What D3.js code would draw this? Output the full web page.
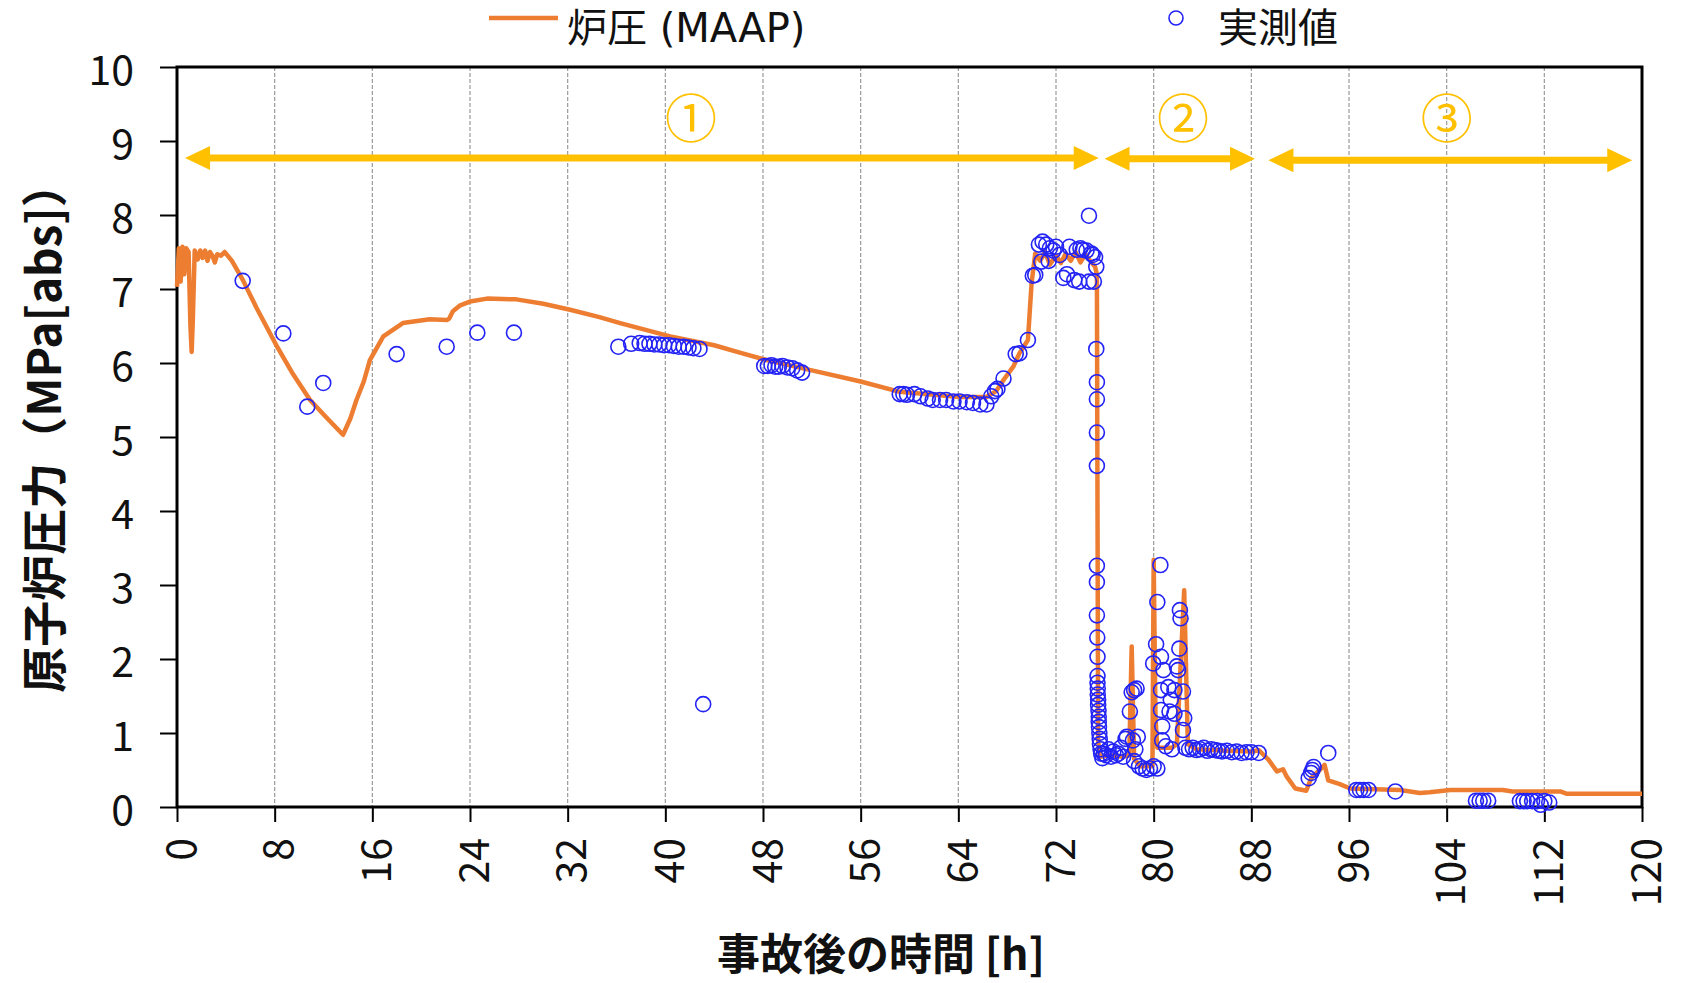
<!DOCTYPE html>
<html>
<head>
<meta charset="utf-8">
<script src="https://cdn.jsdelivr.net/npm/d3@7"></script>
<style>
	body { margin: 0; background: #fff; }
	text { font-family: "Noto Sans CJK JP", "Noto Sans", sans-serif; }
</style>
</head>
<body>
<script>
// time ticks [h] and pressure ticks [MPa abs]
const hourTicks = [0, 8, 16, 24, 32, 40, 48, 56, 64, 72, 80, 88, 96, 104, 112, 120];
const pressureTicks = [0, 1, 2, 3, 4, 5, 6, 7, 8, 9, 10];

// MAAP calculation, [hour, pressure]
const maapSeries = [
	[0.0, 7.03], [0.15, 7.55], [0.3, 7.1], [0.45, 7.57], [0.6, 7.2], [0.75, 7.55],
	[0.95, 7.5], [1.1, 6.5], [1.2, 6.15], [1.3, 6.6], [1.45, 7.52], [1.7, 7.4],
	[1.9, 7.52], [2.1, 7.42], [2.3, 7.52], [2.5, 7.38], [2.7, 7.5], [2.9, 7.45],
	[3.1, 7.36], [3.3, 7.47], [3.6, 7.45], [3.9, 7.5], [4.5, 7.38], [5.4, 7.12],
	[6.5, 6.75], [8.2, 6.22], [9.5, 5.85], [10.9, 5.5], [12.2, 5.27], [13.6, 5.03],
	[14.2, 5.25], [14.7, 5.5], [15.3, 5.75], [15.8, 6.04], [16.9, 6.36], [18.5, 6.54],
	[20.7, 6.59], [22.1, 6.58], [22.3, 6.6], [22.6, 6.7], [23.2, 6.78], [24.0, 6.83],
	[25.4, 6.87], [27.8, 6.86], [30.0, 6.8], [32.2, 6.72], [34.6, 6.62], [36.3, 6.54],
	[40.4, 6.36], [44.0, 6.24], [46.1, 6.14], [48.3, 6.04], [52.0, 5.9], [56.0, 5.75],
	[59.2, 5.61], [62.0, 5.57], [64.1, 5.54], [66.3, 5.54], [67.1, 5.62], [67.7, 5.77],
	[68.5, 5.95], [69.0, 6.13], [69.7, 6.31], [70.0, 7.08], [70.3, 7.48], [70.7, 7.38],
	[71.1, 7.5], [71.5, 7.33], [72.0, 7.45], [72.4, 7.35], [72.8, 7.48], [73.2, 7.38],
	[73.6, 7.5], [74.0, 7.36], [74.4, 7.47], [74.8, 7.38], [75.2, 7.3], [75.35, 7.2],
	[75.45, 0.9], [75.6, 0.68], [76.5, 0.7], [77.5, 0.68], [78.0, 0.7], [78.2, 2.17],
	[78.4, 0.65], [78.9, 0.55], [79.9, 0.55], [80.0, 3.34], [80.15, 1.2], [80.3, 0.8],
	[81.5, 0.8], [81.9, 0.85], [82.5, 2.93], [82.8, 0.85], [83.5, 0.78], [86.0, 0.76],
	[88.1, 0.75], [88.6, 0.77], [89.4, 0.64], [90.1, 0.48], [90.6, 0.51], [90.9, 0.41],
	[91.6, 0.25], [92.5, 0.22], [92.9, 0.39], [93.6, 0.5], [94.0, 0.57], [94.3, 0.36],
	[95.25, 0.31], [96.1, 0.25], [100.2, 0.23], [101.8, 0.19], [102.6, 0.2], [104.3, 0.23],
	[108.6, 0.23], [109.4, 0.21], [113.3, 0.21], [113.8, 0.18], [120, 0.18]
];

// measured values, [hour, pressure]
const measuredSeries = [
	[5.38, 7.11], [8.71, 6.4], [10.67, 5.41], [11.98, 5.73], [17.99, 6.12], [22.09, 6.22],
	[24.6, 6.41], [27.6, 6.41], [36.15, 6.22], [37.2, 6.26], [37.9, 6.27], [38.3, 6.26],
	[38.7, 6.26], [39.1, 6.25], [39.5, 6.25], [39.9, 6.24], [40.3, 6.24], [40.7, 6.23],
	[41.1, 6.22], [41.5, 6.22], [41.9, 6.21], [42.3, 6.2], [42.8, 6.19], [43.1, 1.39],
	[48.1, 5.96], [48.4, 5.96], [48.7, 5.97], [49.0, 5.95], [49.3, 5.95], [49.6, 5.96],
	[50.0, 5.94], [50.4, 5.93], [50.8, 5.9], [51.2, 5.87],
	[59.2, 5.58], [59.5, 5.58], [59.8, 5.57], [60.4, 5.58], [60.9, 5.55], [61.5, 5.52],
	[61.9, 5.5], [62.5, 5.5], [63.0, 5.5], [63.6, 5.48], [64.1, 5.48], [64.7, 5.47],
	[65.2, 5.46], [65.8, 5.44], [66.3, 5.44], [66.7, 5.55], [67.0, 5.62], [67.2, 5.65],
	[67.7, 5.79], [68.7, 6.12], [69.0, 6.13], [69.7, 6.31],
	[70.1, 7.18], [70.3, 7.19], [70.6, 7.6], [70.8, 7.37], [70.9, 7.64], [71.2, 7.6],
	[71.4, 7.38], [71.5, 7.55], [71.8, 7.52], [72.0, 7.57], [72.3, 7.46], [72.6, 7.15],
	[72.9, 7.2], [73.1, 7.57], [73.5, 7.12], [73.7, 7.53], [73.9, 7.1], [74.0, 7.55],
	[74.2, 7.53], [74.5, 7.52], [74.7, 7.1], [74.7, 7.99], [74.9, 7.48], [75.0, 7.46],
	[75.1, 7.1], [75.2, 7.43], [75.3, 7.3],
	[75.3, 6.19], [75.35, 5.74], [75.35, 5.51], [75.35, 5.06], [75.35, 4.61], [75.35, 3.26],
	[75.35, 3.04], [75.35, 2.59], [75.38, 2.29], [75.4, 2.03], [75.4, 1.77], [75.4, 1.68],
	[75.42, 1.6], [75.42, 1.52], [75.45, 1.45], [75.45, 1.38], [75.48, 1.3], [75.5, 1.22],
	[75.5, 1.15], [75.52, 1.08], [75.55, 1.0], [75.58, 0.92], [75.6, 0.85], [75.65, 0.78],
	[75.7, 0.72], [75.8, 0.66], [75.9, 0.72], [76.1, 0.7], [76.3, 0.78], [76.5, 0.68],
	[76.7, 0.75], [76.9, 0.7], [77.1, 0.72], [77.3, 0.8], [77.5, 0.68], [77.7, 0.92],
	[77.8, 0.95], [78.05, 1.29], [78.2, 1.55], [78.4, 1.58], [78.6, 1.6], [78.3, 0.9],
	[78.7, 0.95], [78.5, 0.78], [78.4, 0.62], [78.8, 0.55], [79.1, 0.52], [79.4, 0.5],
	[79.7, 0.52], [80.0, 0.55], [80.3, 0.52],
	[80.55, 3.27], [80.3, 2.77], [80.2, 2.2], [79.96, 1.94], [80.6, 2.03], [80.8, 1.85],
	[80.6, 1.58], [81.2, 1.62], [80.6, 1.31], [81.3, 1.29], [80.7, 1.09], [80.7, 0.9],
	[81.0, 0.82], [81.5, 0.78],
	[82.15, 2.66], [82.2, 2.55], [82.1, 2.14], [81.9, 1.9], [82.0, 1.85], [82.4, 1.56],
	[81.4, 1.45], [81.7, 1.26], [82.5, 1.2], [82.4, 1.04], [81.7, 1.58],
	[82.6, 0.8], [82.9, 0.78], [83.2, 0.8], [83.5, 0.77], [83.8, 0.78], [84.1, 0.8],
	[84.4, 0.76], [84.7, 0.78], [85.0, 0.77], [85.3, 0.76], [85.6, 0.75], [86.0, 0.76],
	[86.4, 0.74], [86.8, 0.75], [87.2, 0.73], [87.6, 0.74], [88.0, 0.74], [88.6, 0.73],
	[92.7, 0.39], [92.9, 0.46], [93.0, 0.5], [93.1, 0.54], [94.3, 0.73],
	[96.6, 0.23], [96.9, 0.23], [97.2, 0.23], [97.6, 0.23], [99.8, 0.21],
	[106.4, 0.085], [106.7, 0.085], [107.0, 0.085], [107.4, 0.085],
	[110.0, 0.08], [110.3, 0.08], [110.6, 0.08], [111.0, 0.08], [111.4, 0.08],
	[111.7, 0.03], [112.0, 0.08], [112.4, 0.06]
];

// phase annotations
const phaseLabels = ["①", "②", "③"];
const phaseLabelHour = [42.1, 82.4, 104.0];
const phaseStart = [0.66, 75.98, 89.4];
const phaseEnd = [75.5, 88.3, 119.2];
const phaseLevel = [8.77, 8.76, 8.74];

const legendLabels = ["炉圧 (MAAP)", "実測値"];

const maapColor = "#ED7D31";
const measColor = "#2323F5";
const phaseColor = "#FFC000";
const legendFont = "'DejaVu Sans', 'Noto Sans CJK JP', sans-serif";

const width = 1693;
const height = 983;
const margin = { left: 177, right: 51, top: 67, bottom: 176 };

const svg = d3.select("body")
	.append("svg")
	.attr("width", width)
	.attr("height", height);

const x = d3.scaleLinear()
	.domain([0, 120])
	.range([margin.left, width - margin.right]);

const y = d3.scaleLinear()
	.domain([0, 10])
	.range([height - margin.bottom, margin.top]);

// vertical dashed grid
svg.append("g")
	.selectAll("line")
	.data(hourTicks.slice(1, -1))
	.join("line")
	.attr("x1", d => x(d))
	.attr("x2", d => x(d))
	.attr("y1", y(10))
	.attr("y2", y(0))
	.style("stroke", "#9a9a9a")
	.style("stroke-width", 1.2)
	.style("stroke-dasharray", "4,2");

// y axis
const yAxis = svg.append("g")
	.attr("transform", `translate(${x(0)},0)`)
	.call(d3.axisLeft(y).tickValues(pressureTicks).tickSize(17).tickPadding(26));
yAxis.select(".domain").remove();
yAxis.selectAll("line").style("stroke", "#000").style("stroke-width", 2);
yAxis.selectAll("text")
	.attr("dy", "0.42em")
	.style("font-size", "41px")
	.style("fill", "#111");

// x axis
const xAxis = svg.append("g")
	.attr("transform", `translate(0,${y(0)})`)
	.call(d3.axisBottom(x).tickValues(hourTicks).tickSize(15));
xAxis.select(".domain").remove();
xAxis.selectAll("line").style("stroke", "#000").style("stroke-width", 2);
xAxis.selectAll("text")
	.attr("y", null)
	.attr("dy", null)
	.attr("transform", "translate(0,31) rotate(-90)")
	.attr("text-anchor", "end")
	.attr("dominant-baseline", "central")
	.style("font-size", "41px")
	.style("fill", "#111");

// plot frame
svg.append("rect")
	.attr("x", x(0))
	.attr("y", y(10))
	.attr("width", x(120) - x(0))
	.attr("height", y(0) - y(10))
	.style("fill", "none")
	.style("stroke", "#000")
	.style("stroke-width", 3);

// MAAP line
const line = d3.line()
	.x(d => x(d[0]))
	.y(d => y(d[1]));

svg.append("path")
	.datum(maapSeries)
	.attr("d", line)
	.style("fill", "none")
	.style("stroke", maapColor)
	.style("stroke-width", 4.5)
	.style("stroke-linejoin", "round");

// measured points
svg.append("g")
	.selectAll("circle")
	.data(measuredSeries)
	.join("circle")
	.attr("cx", d => x(d[0]))
	.attr("cy", d => y(d[1]))
	.attr("r", 7.5)
	.style("fill", "none")
	.style("stroke", measColor)
	.style("stroke-width", 1.6);

// phase arrows
const headLen = 25;
const headHalf = 12;
phaseLabels.forEach((label, i) => {
	const x1 = x(phaseStart[i]);
	const x2 = x(phaseEnd[i]);
	const yy = y(phaseLevel[i]);
	svg.append("line")
		.attr("x1", x1 + headLen - 2)
		.attr("x2", x2 - headLen + 2)
		.attr("y1", yy)
		.attr("y2", yy)
		.style("stroke", phaseColor)
		.style("stroke-width", 7);
	svg.append("polygon")
		.attr("points", `${x1},${yy} ${x1 + headLen},${yy - headHalf} ${x1 + headLen},${yy + headHalf}`)
		.style("fill", phaseColor);
	svg.append("polygon")
		.attr("points", `${x2},${yy} ${x2 - headLen},${yy - headHalf} ${x2 - headLen},${yy + headHalf}`)
		.style("fill", phaseColor);
	svg.append("text")
		.attr("x", x(phaseLabelHour[i]))
		.attr("y", y(9.35))
		.attr("text-anchor", "middle")
		.attr("dominant-baseline", "central")
		.style("font-size", "52px")
		.style("fill", phaseColor)
		.text(label);
});

// legend
svg.append("line")
	.attr("x1", 489)
	.attr("x2", 558)
	.attr("y1", 18)
	.attr("y2", 18)
	.style("stroke", maapColor)
	.style("stroke-width", 4.5);
svg.append("text")
	.attr("x", 567)
	.attr("y", 42)
	.style("font-family", legendFont)
	.style("font-size", "40px")
	.style("fill", "#111")
	.text(legendLabels[0]);
svg.append("circle")
	.attr("cx", 1176)
	.attr("cy", 18)
	.attr("r", 7)
	.style("fill", "none")
	.style("stroke", measColor)
	.style("stroke-width", 1.6);
svg.append("text")
	.attr("x", 1218)
	.attr("y", 42)
	.style("font-family", legendFont)
	.style("font-size", "40px")
	.style("fill", "#111")
	.text(legendLabels[1]);

// axis titles
svg.append("text")
	.attr("transform", "translate(41,427) rotate(-90)")
	.attr("text-anchor", "middle")
	.attr("dominant-baseline", "central")
	.style("font-size", "46px")
	.style("font-weight", "bold")
	.style("fill", "#111")
	.text("原子炉圧力（MPa[abs]）");

svg.append("text")
	.attr("x", 881)
	.attr("y", 951)
	.attr("text-anchor", "middle")
	.attr("dominant-baseline", "central")
	.style("font-size", "43px")
	.style("font-weight", "bold")
	.style("fill", "#111")
	.text("事故後の時間 [h]");
</script>
</body>
</html>
